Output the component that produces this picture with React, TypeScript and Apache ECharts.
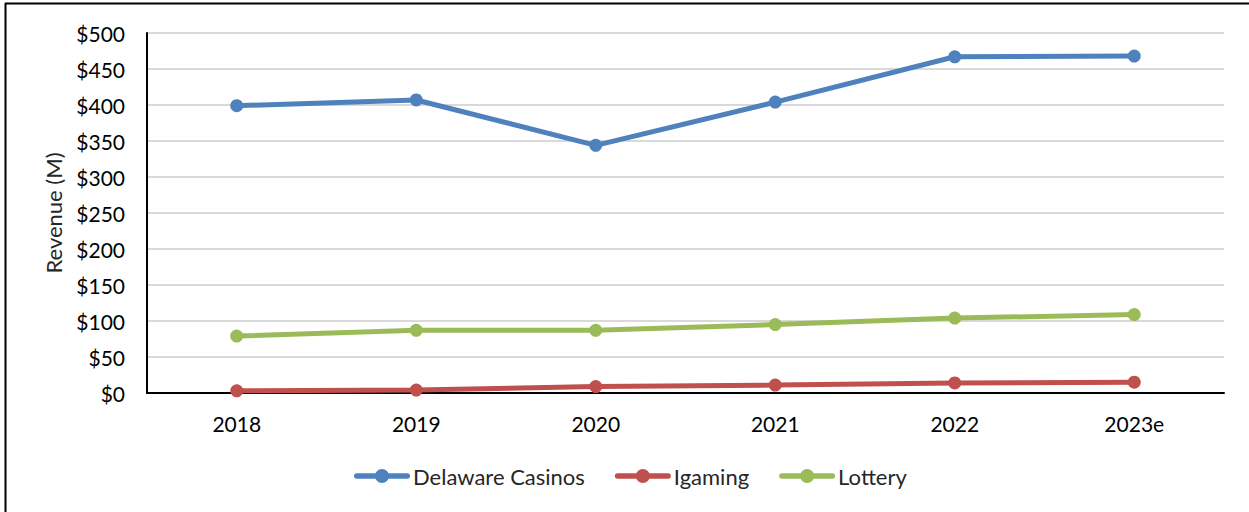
import React, { useEffect, useRef } from "react";
import * as echarts from "echarts";

const categories = ["2018", "2019", "2020", "2021", "2022", "2023e"];
const delawareCasinos = [399, 407, 344, 404, 467, 468];
const igaming = [3, 4, 9, 11, 14, 15];
const lottery = [79, 87, 87, 95, 104, 109];
const seriesNames = ["Delaware Casinos", "Igaming", "Lottery"];
const colors = ["#4f81bd", "#c0504d", "#9bbb59"];

const FONT = "Lato";
const LEGEND_ICON =
  "path://M2.75,4.25 H22.5 V9.75 H2.75 A2.75,2.75 0 0,1 2.75,4.25 Z " +
  "M33.5,4.25 H53.25 A2.75,2.75 0 0,1 53.25,9.75 H33.5 Z " +
  "M21,7 A7,7 0 1,1 35,7 A7,7 0 1,1 21,7 Z";

export default function App() {
  const ref = useRef<HTMLDivElement>(null);
  useEffect(() => {
    if (!ref.current) return;
    const chart = echarts.init(ref.current, null, { renderer: "svg" });
    const values = [delawareCasinos, igaming, lottery];
    chart.setOption({
      animation: false,
      backgroundColor: "#ffffff",
      textStyle: { fontFamily: FONT },
      grid: { left: 147, right: 25, top: 33, bottom: 119, containLabel: false },
      legend: {
        data: seriesNames,
        icon: LEGEND_ICON,
        left: 349,
        top: 460,
        itemWidth: 56,
        itemHeight: 14,
        itemGap: 30,
        textStyle: { fontFamily: FONT, fontSize: 22, color: "#262626", padding: [0, 0, 0, -2] },
      },
      xAxis: {
        type: "category",
        data: categories,
        boundaryGap: true,
        axisLine: { show: true, lineStyle: { color: "#000000", width: 2 } },
        axisTick: { show: false },
        axisLabel: { fontFamily: FONT, fontSize: 21, color: "#000000", margin: 20 },
        splitLine: { show: false },
      },
      yAxis: {
        type: "value",
        min: 0,
        max: 500,
        interval: 50,
        name: "Revenue (M)",
        nameLocation: "middle",
        nameGap: 83,
        nameTextStyle: { fontFamily: FONT, fontSize: 22, color: "#262626" },
        axisLine: { show: true, lineStyle: { color: "#000000", width: 2 } },
        axisTick: { show: false },
        axisLabel: {
          fontFamily: FONT,
          fontSize: 21,
          color: "#000000",
          margin: 22,
          formatter: (v: number) => "$" + v,
        },
        splitLine: { show: true, lineStyle: { color: "#d9d9d9", width: 2 } },
      },
      series: seriesNames.map((name, i) => ({
        name,
        type: "line",
        data: values[i],
        color: colors[i],
        symbol: "circle",
        symbolSize: 13,
        lineStyle: { width: 5, color: colors[i] },
        itemStyle: { color: colors[i] },
        z: 3 - i,
      })),
      graphic: [
        { type: "line", shape: { x1: 5, y1: 3.5, x2: 1249, y2: 3.5 }, style: { stroke: "#000", lineWidth: 2 } },
        { type: "line", shape: { x1: 5.5, y1: 3, x2: 5.5, y2: 512 }, style: { stroke: "#000", lineWidth: 2 } },
      ],
    });
    return () => chart.dispose();
  }, []);
  return (
    <div
      ref={ref}
      style={{ position: "fixed", left: 0, top: 0, width: 1249, height: 512 }}
    />
  );
}
